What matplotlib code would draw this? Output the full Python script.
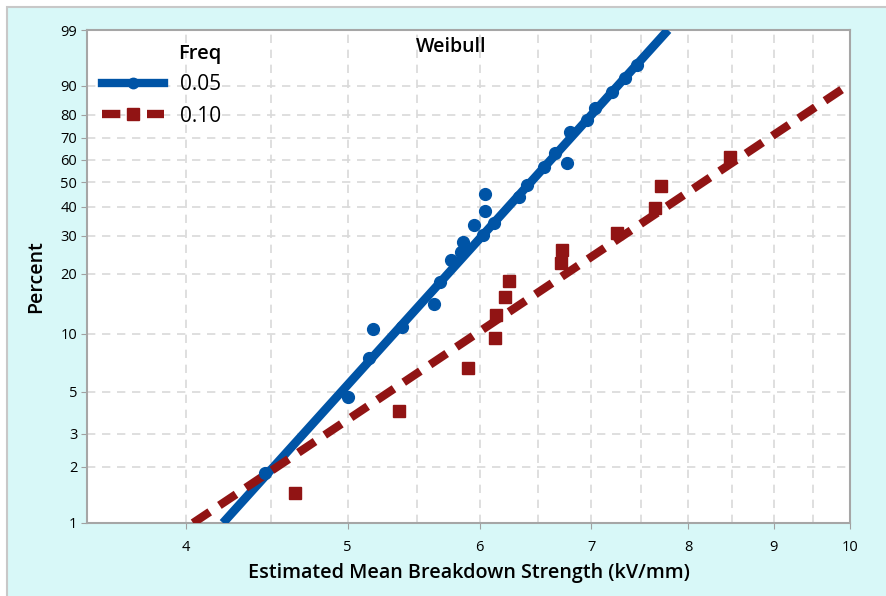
import numpy as np
import matplotlib
matplotlib.use("Agg")
import matplotlib.pyplot as plt
from matplotlib.patches import Rectangle

plt.rcParams['font.family'] = ['Open Sans', 'DejaVu Sans']

# Freq 0.05 - data points (kV/mm, percent)
x_005 = [4.46, 5.00, 5.15, 5.18, 5.39, 5.63, 5.68, 5.77, 5.85, 5.86, 5.95, 6.03,
         6.04, 6.04, 6.12, 6.33, 6.40, 6.56, 6.66, 6.77, 6.80, 6.96, 7.03, 7.20, 7.33, 7.45]
p_005 = [1.85, 4.7, 7.5, 10.6, 10.9, 14.2, 18.2, 23.2, 25.3, 28.1, 33.5, 30.2,
         38.5, 45.1, 34.2, 43.9, 48.8, 56.8, 63.1, 58.6, 72.6, 77.8, 82.6, 88.1, 92.1, 94.9]
# fitted line ends
fit_x_005 = [4.21, 7.78]
fit_p_005 = [1, 99]

# Freq 0.10
x_010 = [4.65, 5.37, 5.90, 6.13, 6.14, 6.21, 6.25, 6.71, 6.72, 7.25, 7.64, 7.70, 8.47]
p_010 = [1.45, 3.96, 6.67, 9.53, 12.5, 15.4, 18.4, 22.5, 25.9, 30.9, 39.6, 48.4, 61.3]
fit_x_010 = [4.04, 10.0]
fit_p_010 = [1, 90.5]

xticks = [4, 5, 6, 7, 8, 9, 10]
xgrid_minor = [4.5, 5.5, 6.5, 7.5, 8.5, 9.5]
yticks = [1, 2, 3, 5, 10, 20, 30, 40, 50, 60, 70, 80, 90, 99]

blue = '#0054A6'
red = '#911414'
bg = '#D8F8F8'


def fwd(p):
    p = np.clip(np.asarray(p, dtype=float), 1e-6, 100 - 1e-6)
    return np.log(-np.log(1 - p / 100.0))


def inv(w):
    return 100.0 * (1 - np.exp(-np.exp(w)))


fig = plt.figure(figsize=(8.87, 5.96), dpi=100, facecolor='white')
fig.patches.append(Rectangle((7 / 887, -0.01), 1.0, 1 - 7 / 596 + 0.01,
                             transform=fig.transFigure, facecolor=bg,
                             edgecolor='#C8C8C8', linewidth=1.5, zorder=-10))
ax = fig.add_axes([87 / 887, 73 / 596, 763 / 887, 493 / 596])
ax.set_facecolor('white')

ax.set_xscale('log')
ax.set_yscale('function', functions=(fwd, inv))
ax.set_xlim(3.49, 10)
ax.set_ylim(1, 99)

ax.set_xticks(xticks)
ax.set_xticklabels([str(t) for t in xticks])
ax.set_xticks(xgrid_minor, minor=True)
ax.set_xticklabels([], minor=True)
ax.set_yticks(yticks)
ax.set_yticklabels([str(t) for t in yticks])
ax.yaxis.set_minor_locator(matplotlib.ticker.NullLocator())

ax.grid(True, which='both', color='#D9D9D9', linestyle=(0, (5, 4)), linewidth=1.2)
ax.set_axisbelow(True)
ax.tick_params(which='major', length=4, color='#A0A0A0', labelsize=10.5, pad=3)
ax.tick_params(axis='x', which='major', pad=8)
ax.tick_params(which='minor', length=0)
for s in ax.spines.values():
    s.set_color('#A6A6A6')
    s.set_linewidth(1.5)

# fitted lines
ax.plot(fit_x_005, fit_p_005, color=blue, linewidth=6.3, solid_capstyle='butt', zorder=3)
ax.plot(fit_x_010, fit_p_010, color=red, linewidth=6, dashes=(2.4, 1.4),
        dash_capstyle='butt', zorder=3)
# data points
ax.plot(x_005, p_005, 'o', color=blue, markersize=8.5, zorder=4)
ax.plot(x_010, p_010, 's', color=red, markersize=8, zorder=4)

# legend handles
h1, = ax.plot([], [], color=blue, linewidth=6, marker='o', markersize=7.5)
h2, = ax.plot([], [], color=red, linewidth=6, dashes=(2.2, 3.2), marker='s', markersize=9)
leg = ax.legend([h1, h2], ['0.05', '0.10'], title='Freq', loc='upper left',
                bbox_to_anchor=(-0.005, 1.01), frameon=False, fontsize=15,
                title_fontsize=14.5, handlelength=3.0, handletextpad=0.75,
                labelspacing=0.5, numpoints=1, alignment='right')
leg.get_title().set_fontweight('semibold')

ax.text(0.477, 0.985, 'Weibull', transform=ax.transAxes, ha='center', va='top',
        fontsize=14, fontweight='semibold')

ax.set_xlabel('Estimated Mean Breakdown Strength (kV/mm)', fontsize=14.2,
              fontweight='semibold', labelpad=6)
ax.set_ylabel('Percent', fontsize=14, fontweight='semibold', labelpad=10)

fig.savefig('out.png', dpi=100)
